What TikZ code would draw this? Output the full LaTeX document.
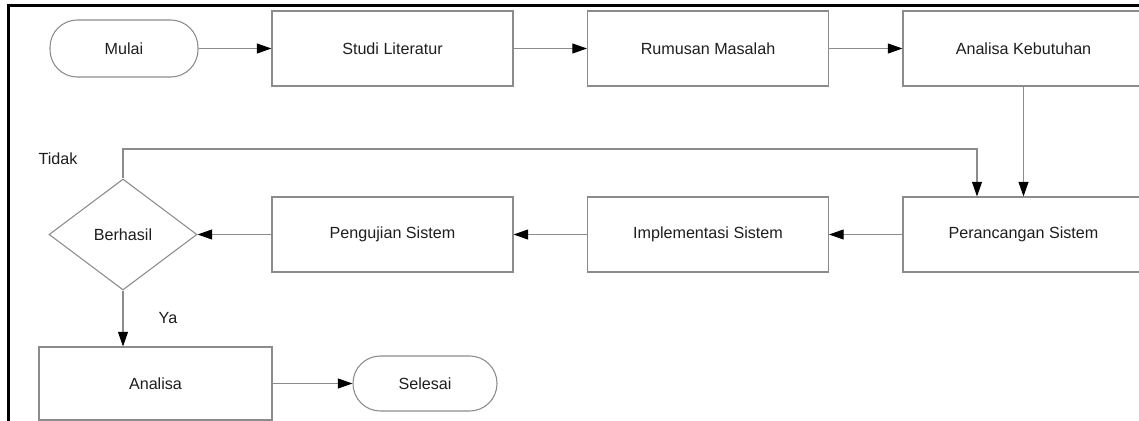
\documentclass[tikz,border=0pt]{standalone}
\usepackage{fontspec}
\setmainfont{Liberation Sans}
\usetikzlibrary{shapes.geometric,arrows.meta}
\definecolor{lin}{RGB}{140,140,140}
\definecolor{txt}{RGB}{30,30,30}
\tikzset{
  base/.style={draw=lin, line width=0.8pt, text=txt, font=\fontsize{12.1}{14}\selectfont, inner sep=0pt},
  stepbox/.style={base, rectangle, minimum width=180.75pt, minimum height=56.25pt},
  term/.style={base, rectangle, rounded corners=20.5pt},
  decision/.style={base, diamond, minimum width=111pt, minimum height=83.25pt},
  conn/.style={draw=lin, line width=0.8pt, -{Triangle[length=11pt,width=7.5pt,fill=black,color=black]}},
  lbl/.style={text=txt, font=\fontsize{12.1}{14}\selectfont, inner sep=0pt}
}
\begin{document}
\begin{tikzpicture}[x=0.75pt,y=-0.75pt]
\clip (0,0) rectangle (1139,421);
\fill[white] (0,0) rectangle (1139,421);
% frame
\draw[black, line width=2.2pt] (8.5,423) -- (8.5,5.5) -- (1145,5.5);
% top row
\node[term, minimum width=111pt, minimum height=42.75pt] (mulai) at (124,48.5) {Mulai};
\node[stepbox] (studi) at (392.5,48.5) {Studi Literatur};
\node[stepbox] (rumusan) at (708,48.5) {Rumusan Masalah};
\node[stepbox] (kebutuhan) at (1023.5,48.5) {Analisa Kebutuhan};
% middle row
\node[stepbox] (perancangan) at (1023.5,234.5) {Perancangan Sistem};
\node[stepbox] (implementasi) at (708,234.5) {Implementasi Sistem};
\node[stepbox] (pengujian) at (392.5,234.5) {Pengujian Sistem};
\node[decision] (berhasil) at (123,234.5) {Berhasil};
% bottom row
\node[stepbox, minimum width=174.75pt, minimum height=54.75pt] (analisa) at (155.5,383.5) {Analisa};
\node[term, minimum width=108pt, minimum height=41.25pt] (selesai) at (425,383.5) {Selesai};
% labels
\node[lbl] (tidak) at (58,159) {Tidak};
\node[lbl] (ya) at (168,318) {Ya};
% connectors
\draw[conn] (mulai.east) -- (studi.west);
\draw[conn] (studi.east) -- (rumusan.west);
\draw[conn] (rumusan.east) -- (kebutuhan.west);
\draw[conn] (kebutuhan.south) -- (perancangan.north);
\draw[conn] (perancangan.west) -- (implementasi.east);
\draw[conn] (implementasi.west) -- (pengujian.west -| implementasi.west) -- (pengujian.east);
\draw[conn] (pengujian.west) -- (berhasil.east);
\coordinate (loopR) at (977,149);
\draw[conn] (berhasil.north) |- (loopR) -- (loopR |- perancangan.north);
\draw[conn] (berhasil.south) -- (berhasil.south |- analisa.north);
\draw[conn] (analisa.east) -- (selesai.west);
\end{tikzpicture}
\end{document}
